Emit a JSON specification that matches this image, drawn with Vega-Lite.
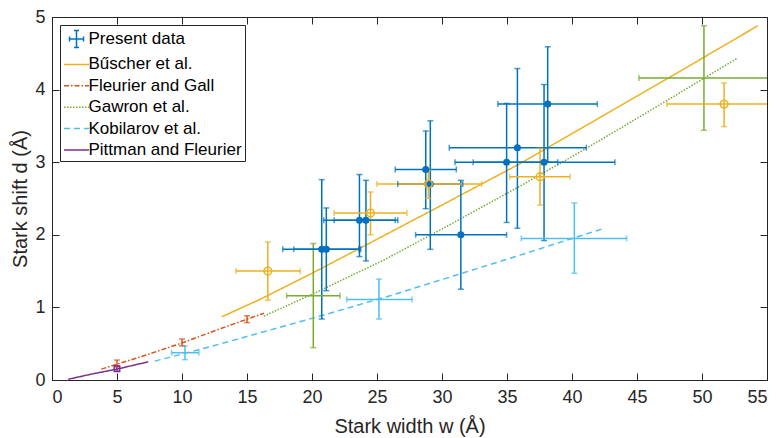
{
  "$schema": "https://vega.github.io/schema/vega-lite/v6.json",
  "width": 715,
  "height": 363,
  "autosize": {"type": "none"},
  "padding": {"left": 52, "top": 17, "right": 10, "bottom": 58},
  "background": "white",
  "config": {
    "font": "Liberation Sans",
    "view": {"stroke": "#262626", "strokeWidth": 1},
    "axis": {
      "grid": false,
      "domainColor": "#262626",
      "tickColor": "#262626",
      "labelColor": "#262626",
      "titleColor": "#262626",
      "labelFont": "Liberation Sans",
      "titleFont": "Liberation Sans",
      "labelFontSize": 18,
      "titleFontSize": 20,
      "titleFontWeight": "normal",
      "tickSize": -7,
      "tickWidth": 1
    }
  },
  "datasets": {
    "pts": [
      {"series": "Present data", "w": 20.75, "d": 1.8, "wlo": 17.75, "whi": 23.75, "dlo": 0.84, "dhi": 2.76},
      {"series": "Present data", "w": 21.1, "d": 1.8, "wlo": 18.6, "whi": 23.6, "dlo": 1.23, "dhi": 2.37},
      {"series": "Present data", "w": 23.65, "d": 2.2, "wlo": 20.9, "whi": 26.4, "dlo": 1.7, "dhi": 2.83},
      {"series": "Present data", "w": 24.15, "d": 2.2, "wlo": 21.7, "whi": 26.6, "dlo": 1.64, "dhi": 2.75},
      {"series": "Present data", "w": 28.75, "d": 2.9, "wlo": 26.4, "whi": 31.1, "dlo": 2.36, "dhi": 3.43},
      {"series": "Present data", "w": 29.1, "d": 2.7, "wlo": 26.6, "whi": 31.6, "dlo": 1.8, "dhi": 3.57},
      {"series": "Present data", "w": 31.45, "d": 2.0, "wlo": 27.97, "whi": 34.97, "dlo": 1.25, "dhi": 2.75},
      {"series": "Present data", "w": 34.97, "d": 3.0, "wlo": 31.0, "whi": 38.9, "dlo": 2.17, "dhi": 3.81},
      {"series": "Present data", "w": 35.8, "d": 3.2, "wlo": 30.56, "whi": 41.1, "dlo": 2.09, "dhi": 4.29},
      {"series": "Present data", "w": 37.85, "d": 3.0, "wlo": 32.4, "whi": 43.3, "dlo": 1.92, "dhi": 4.07},
      {"series": "Present data", "w": 38.13, "d": 3.8, "wlo": 34.3, "whi": 41.95, "dlo": 3.0, "dhi": 4.59},
      {"series": "Bűscher et al.", "w": 16.6, "d": 1.5, "wlo": 14.15, "whi": 19.1, "dlo": 1.1, "dhi": 1.9},
      {"series": "Bűscher et al.", "w": 24.5, "d": 2.3, "wlo": 21.7, "whi": 27.3, "dlo": 2.0, "dhi": 2.59},
      {"series": "Bűscher et al.", "w": 28.95, "d": 2.7, "wlo": 25.0, "whi": 33.05, "dlo": 2.5, "dhi": 2.89},
      {"series": "Bűscher et al.", "w": 37.54, "d": 2.8, "wlo": 35.2, "whi": 39.85, "dlo": 2.41, "dhi": 3.19},
      {"series": "Bűscher et al.", "w": 51.7, "d": 3.8, "wlo": 47.3, "whi": 56.1, "dlo": 3.49, "dhi": 4.09},
      {"series": "Gawron et al.", "w": 20.1, "d": 1.16, "wlo": 18.05, "whi": 22.15, "dlo": 0.445, "dhi": 1.88},
      {"series": "Gawron et al.", "w": 50.15, "d": 4.16, "wlo": 45.15, "whi": 55.15, "dlo": 3.44, "dhi": 4.88},
      {"series": "Kobilarov et al.", "w": 10.23, "d": 0.376, "wlo": 9.2, "whi": 11.3, "dlo": 0.28, "dhi": 0.47},
      {"series": "Kobilarov et al.", "w": 25.15, "d": 1.11, "wlo": 22.67, "whi": 27.7, "dlo": 0.84, "dhi": 1.39},
      {"series": "Kobilarov et al.", "w": 40.18, "d": 1.95, "wlo": 36.1, "whi": 44.2, "dlo": 1.47, "dhi": 2.44},
      {"series": "Fleurier and Gall", "w": 5.0, "d": 0.23, "wlo": null, "whi": null, "dlo": 0.18, "dhi": 0.275},
      {"series": "Fleurier and Gall", "w": 10.0, "d": 0.52, "wlo": null, "whi": null, "dlo": 0.47, "dhi": 0.565},
      {"series": "Fleurier and Gall", "w": 15.0, "d": 0.84, "wlo": null, "whi": null, "dlo": 0.79, "dhi": 0.885},
      {"series": "Pittman and Fleurier", "w": 5.0, "d": 0.155, "wlo": null, "whi": null, "dlo": 0.12, "dhi": 0.19}
    ],
    "lines": [
      {"series": "Bűscher et al.", "w": 13.05, "d": 0.87},
      {"series": "Bűscher et al.", "w": 16, "d": 1.11},
      {"series": "Bűscher et al.", "w": 20, "d": 1.47},
      {"series": "Bűscher et al.", "w": 23.95, "d": 1.84},
      {"series": "Bűscher et al.", "w": 30, "d": 2.41},
      {"series": "Bűscher et al.", "w": 36, "d": 2.98},
      {"series": "Bűscher et al.", "w": 42, "d": 3.6},
      {"series": "Bűscher et al.", "w": 48, "d": 4.22},
      {"series": "Bűscher et al.", "w": 54.3, "d": 4.88},
      {"series": "Fleurier and Gall", "w": 3.8, "d": 0.15},
      {"series": "Fleurier and Gall", "w": 7, "d": 0.33},
      {"series": "Fleurier and Gall", "w": 10, "d": 0.51},
      {"series": "Fleurier and Gall", "w": 13, "d": 0.71},
      {"series": "Fleurier and Gall", "w": 16.3, "d": 0.92},
      {"series": "Gawron et al.", "w": 16.3, "d": 0.88},
      {"series": "Gawron et al.", "w": 20, "d": 1.18},
      {"series": "Gawron et al.", "w": 25.5, "d": 1.65},
      {"series": "Gawron et al.", "w": 30, "d": 2.08},
      {"series": "Gawron et al.", "w": 36, "d": 2.67},
      {"series": "Gawron et al.", "w": 41.1, "d": 3.19},
      {"series": "Gawron et al.", "w": 46, "d": 3.71},
      {"series": "Gawron et al.", "w": 52.7, "d": 4.43},
      {"series": "Kobilarov et al.", "w": 7.9, "d": 0.26},
      {"series": "Kobilarov et al.", "w": 12, "d": 0.45},
      {"series": "Kobilarov et al.", "w": 16, "d": 0.65},
      {"series": "Kobilarov et al.", "w": 21, "d": 0.9},
      {"series": "Kobilarov et al.", "w": 26, "d": 1.16},
      {"series": "Kobilarov et al.", "w": 31, "d": 1.44},
      {"series": "Kobilarov et al.", "w": 36, "d": 1.72},
      {"series": "Kobilarov et al.", "w": 42.3, "d": 2.08},
      {"series": "Pittman and Fleurier", "w": 1.25, "d": 0.01},
      {"series": "Pittman and Fleurier", "w": 3, "d": 0.08},
      {"series": "Pittman and Fleurier", "w": 5, "d": 0.15},
      {"series": "Pittman and Fleurier", "w": 7.4, "d": 0.25}
    ]
  },
  "layer": [
    {
      "data": {"name": "lines"},
      "mark": {"type": "line", "strokeWidth": 1.5, "clip": true},
      "encoding": {
        "x": {"field": "w", "type": "quantitative", "scale": {"domain": [0, 55], "nice": false},
              "axis": {"orient": "bottom", "title": "Stark width w (Å)", "values": [0,5,10,15,20,25,30,35,40,45,50,55], "labelPadding": 15, "titlePadding": 10}},
        "y": {"field": "d", "type": "quantitative", "scale": {"domain": [0, 5], "nice": false},
              "axis": {"orient": "left", "title": "Stark shift d (Å)", "values": [0,1,2,3,4,5], "labelPadding": 14, "titlePadding": 4}},
        "color": {"field": "series", "type": "nominal",
                  "scale": {"domain": ["Present data", "Bűscher et al.", "Fleurier and Gall", "Gawron et al.", "Kobilarov et al.", "Pittman and Fleurier"],
                            "range": ["#0072BD", "#EDB120", "#D95319", "#77AC30", "#4DBEEE", "#7E2F8E"]},
                  "legend": {"title": null, "orient": "none", "legendX": 8, "legendY": 8,
                             "symbolType": "stroke", "symbolSize": 400, "symbolStrokeWidth": 1.5, "symbolFillColor": "transparent", "symbolOffset": 2.5,
                             "labelFontSize": 17, "labelColor": "#000000", "labelFont": "Liberation Sans",
                             "strokeColor": "#262626", "fillColor": "white", "padding": 3, "rowPadding": 2.4, "labelOffset": 1,
                             "encode": {"symbols": {"update": {"shape": {"signal": "datum.value === 'Present data' ? 'M-0.7,0H0.7M0,-0.85V0.85M-0.25,-0.85H0.25M-0.25,0.85H0.25M-0.7,-0.25V0.25M0.7,-0.25V0.25' : 'M-1.25,0H1.25'"}, "fill": {"value": "transparent"}}}}}},
        "strokeDash": {"field": "series", "type": "nominal",
                       "scale": {"domain": ["Present data", "Bűscher et al.", "Fleurier and Gall", "Gawron et al.", "Kobilarov et al.", "Pittman and Fleurier"],
                                 "range": [[1, 0], [1, 0], [5, 2, 1.5, 2], [1.5, 1.5], [6, 4], [1, 0]]},
                       "legend": {"title": null, "orient": "none", "legendX": 8, "legendY": 8,
                             "symbolType": "stroke", "symbolSize": 400, "symbolStrokeWidth": 1.5, "symbolFillColor": "transparent", "symbolOffset": 2.5,
                             "labelFontSize": 17, "labelColor": "#000000", "labelFont": "Liberation Sans",
                             "strokeColor": "#262626", "fillColor": "white", "padding": 3, "rowPadding": 2.4, "labelOffset": 1,
                             "encode": {"symbols": {"update": {"shape": {"signal": "datum.value === 'Present data' ? 'M-0.7,0H0.7M0,-0.85V0.85M-0.25,-0.85H0.25M-0.25,0.85H0.25M-0.7,-0.25V0.25M0.7,-0.25V0.25' : 'M-1.25,0H1.25'"}, "fill": {"value": "transparent"}}}}}}
      }
    },
    {
      "data": {"name": "pts"},
      "mark": {"type": "rule", "strokeWidth": 1.5, "clip": true},
      "encoding": {
        "x": {"field": "w", "type": "quantitative",
              "axis": {"orient": "top", "labels": false, "title": null, "domain": false, "values": [0,5,10,15,20,25,30,35,40,45,50,55]}},
        "y": {"field": "dlo", "type": "quantitative",
              "axis": {"orient": "right", "labels": false, "title": null, "domain": false, "values": [0,1,2,3,4,5]}},
        "y2": {"field": "dhi"},
        "color": {"field": "series", "type": "nominal"}
      }
    },
    {
      "data": {"name": "pts"},
      "transform": [{"filter": "isValid(datum.wlo)"}],
      "mark": {"type": "rule", "strokeWidth": 1.5, "clip": true},
      "encoding": {
        "x": {"field": "wlo", "type": "quantitative", "axis": null},
        "x2": {"field": "whi"},
        "y": {"field": "d", "type": "quantitative", "axis": null},
        "color": {"field": "series", "type": "nominal"}
      }
    },
    {
      "data": {"name": "pts"},
      "transform": [{"fold": ["dlo", "dhi"], "as": ["k", "v"]}],
      "mark": {"type": "tick", "orient": "horizontal", "size": 6, "thickness": 1.5, "clip": true},
      "encoding": {
        "x": {"field": "w", "type": "quantitative", "axis": null},
        "y": {"field": "v", "type": "quantitative", "axis": null},
        "color": {"field": "series", "type": "nominal"}
      }
    },
    {
      "data": {"name": "pts"},
      "transform": [{"filter": "isValid(datum.wlo)"}, {"fold": ["wlo", "whi"], "as": ["k", "v"]}],
      "mark": {"type": "tick", "orient": "vertical", "size": 6, "thickness": 1.5, "clip": true},
      "encoding": {
        "x": {"field": "v", "type": "quantitative", "axis": null},
        "y": {"field": "d", "type": "quantitative", "axis": null},
        "color": {"field": "series", "type": "nominal"}
      }
    },
    {
      "data": {"name": "pts"},
      "transform": [{"filter": "datum.series === 'Present data'"}],
      "mark": {"type": "point", "shape": "circle", "filled": true, "size": 50, "opacity": 1},
      "encoding": {
        "x": {"field": "w", "type": "quantitative", "axis": null},
        "y": {"field": "d", "type": "quantitative", "axis": null},
        "color": {"field": "series", "type": "nominal"}
      }
    },
    {
      "data": {"name": "pts"},
      "transform": [{"filter": "datum.series === 'Bűscher et al.'"}],
      "mark": {"type": "point", "shape": "circle", "filled": false, "size": 60, "strokeWidth": 1.5, "opacity": 1, "clip": true},
      "encoding": {
        "x": {"field": "w", "type": "quantitative", "axis": null},
        "y": {"field": "d", "type": "quantitative", "axis": null},
        "color": {"field": "series", "type": "nominal"}
      }
    },
    {
      "data": {"name": "pts"},
      "transform": [{"filter": "datum.series === 'Pittman and Fleurier'"}],
      "mark": {"type": "point", "shape": "square", "filled": false, "size": 30, "strokeWidth": 1.5, "opacity": 1},
      "encoding": {
        "x": {"field": "w", "type": "quantitative", "axis": null},
        "y": {"field": "d", "type": "quantitative", "axis": null},
        "color": {"field": "series", "type": "nominal"}
      }
    }
  ],
  "resolve": {"axis": {"x": "independent", "y": "independent"}}
}
